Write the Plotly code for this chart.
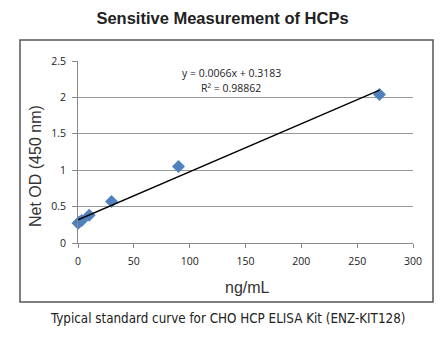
import plotly.graph_objects as go

conc = [0, 1.11, 3.33, 10, 30, 90, 270]
od = [0.27, 0.29, 0.31, 0.38, 0.57, 1.05, 2.04]
slope = 0.0066
intercept = 0.3183
r2 = 0.98862
x_ticks = [0, 50, 100, 150, 200, 250, 300]
y_ticks = [0, 0.5, 1, 1.5, 2, 2.5]

W, H = 445, 343
L, R, T, B = 78, 32, 61, 100
pw = W - L - R
ph = H - T - B

def px(x):
    return (x - L) / pw

def py(y):
    return (H - B - y) / ph

fig = go.Figure()
fig.add_trace(go.Scatter(
    x=conc, y=od, mode="markers", cliponaxis=False,
    marker=dict(symbol="diamond", size=10, color="#4f81bd"),
    showlegend=False, hoverinfo="skip"))
tx = [min(conc), max(conc)]
fig.add_trace(go.Scatter(
    x=tx, y=[slope * v + intercept for v in tx], mode="lines", cliponaxis=False,
    line=dict(color="black", width=1.3), showlegend=False, hoverinfo="skip"))

fig.update_layout(
    width=W, height=H, margin=dict(l=L, r=R, t=T, b=B),
    paper_bgcolor="white", plot_bgcolor="white",
    font=dict(family="Liberation Sans, Arial, sans-serif", color="#222"),
    xaxis=dict(range=[0, 300], tickvals=x_ticks, ticks="outside", ticklen=4,
               tickcolor="#888", showline=True, linecolor="#888", linewidth=1,
               showgrid=False, zeroline=False, ticklabelstandoff=4,
               tickfont=dict(family="Open Sans, sans-serif", size=10.5, color="#222")),
    yaxis=dict(range=[0, 2.5], tickvals=y_ticks, ticks="outside", ticklen=5,
               tickcolor="#888", showline=True, linecolor="#888", linewidth=1,
               showgrid=True, gridcolor="#999", gridwidth=1, zeroline=False,
               ticklabelstandoff=4,
               tickfont=dict(family="Open Sans, sans-serif", size=10.5, color="#222")),
    title=dict(text="<b>Sensitive Measurement of HCPs</b>", x=0.5, xanchor="center",
               y=1 - 18 / H, yanchor="middle",
               font=dict(family="Liberation Sans, Arial, sans-serif", size=16.5, color="#222")),
)

fig.add_shape(type="rect", xref="paper", yref="paper",
              x0=px(20), x1=px(433), y0=py(302), y1=py(40),
              line=dict(color="#555", width=1.5), fillcolor="rgba(0,0,0,0)", layer="below")

def note(x, y, text, font, angle=0):
    fig.add_annotation(xref="paper", yref="paper", x=px(x), y=py(y),
                       xanchor="center", yanchor="middle", text=text,
                       showarrow=False, textangle=angle, font=font)

note(35, 166, "Net OD (450 nm)",
     dict(family="Liberation Sans, Arial, sans-serif", size=16, color="#333"), -90)
note(247, 287, "ng/mL",
     dict(family="Liberation Sans, Arial, sans-serif", size=16, color="#333"))
note(231, 73, f"y = {slope}x + {intercept}",
     dict(family="Open Sans, sans-serif", size=10.5, color="#222"))
note(231, 88, f"R² = {r2}",
     dict(family="Open Sans, sans-serif", size=10.5, color="#222"))
note(227, 318, "Typical standard curve for CHO HCP ELISA Kit (ENZ-KIT128)",
     dict(family="Liberation Sans Narrow, DejaVu Sans Condensed, sans-serif",
          size=13.3, color="#222"))

fig.write_html("out.html")
